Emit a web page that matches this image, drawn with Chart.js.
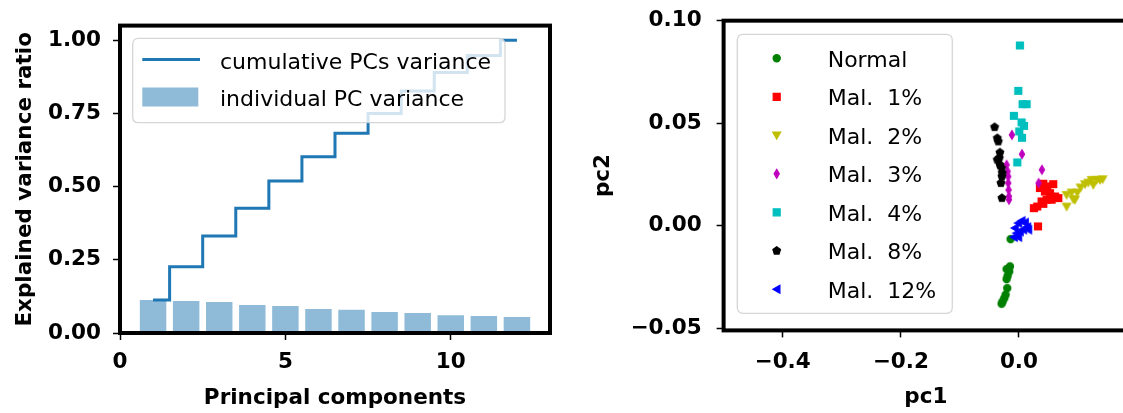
<!DOCTYPE html>
<html><head><meta charset="utf-8">
<script src="https://cdn.jsdelivr.net/npm/chart.js@4.4.0/dist/chart.umd.min.js"></script>
<style>
html,body{margin:0;padding:0;background:#fff;}
body{width:1123px;height:413px;overflow:hidden;position:relative;}
#w1{position:absolute;left:0;top:0;width:560px;height:413px;}
#w2{position:absolute;left:560px;top:0;width:600px;height:413px;}
</style></head><body>
<div id="w1"><canvas id="c1" width="560" height="413"></canvas></div>
<div id="w2"><canvas id="c2" width="600" height="413"></canvas></div>
<script>
// ---------- left chart data ----------
const pcNumbers = [1,2,3,4,5,6,7,8,9,10,11,12];
const individualVariance = [0.113,0.109,0.106,0.096,0.092,0.082,0.079,0.072,0.068,0.061,0.058,0.055];
const cumulativeVariance = [0.113,0.226,0.331,0.426,0.519,0.602,0.682,0.750,0.827,0.890,0.948,1.000];
const varXTicks = [0,5,10];
const varYTicks = [0,0.25,0.5,0.75,1.0];

// ---------- right chart data ----------
const normalPc1 = [-0.0141,-0.0152,-0.0209,-0.0164,-0.0192,-0.0209,-0.0198,-0.0226,-0.0248,-0.0277,-0.0293];
const normalPc2 = [-0.0065,-0.0198,-0.0211,-0.0223,-0.0244,-0.0260,-0.0304,-0.0336,-0.0353,-0.0369,-0.0380];
const mal1Pc1 = [0.0412,0.0480,0.0356,0.0581,0.0440,0.0525,0.0610,0.0666,0.0553,0.0468,0.0384,0.0412,0.0310,0.0254,0.0322];
const mal1Pc2 = [0.0205,0.0192,0.0184,0.0203,0.0167,0.0159,0.0143,0.0135,0.0127,0.0127,0.0119,0.0107,0.0094,0.0086,-0.0003];
const mal2Pc1 = [0.0807,0.0892,0.0948,0.0988,0.1044,0.1118,0.1174,0.1230,0.1259,0.1315,0.1371,0.1417,0.0807,0.0920];
const mal2Pc2 = [0.0151,0.0162,0.0127,0.0162,0.0187,0.0203,0.0211,0.0224,0.0200,0.0224,0.0224,0.0227,0.0094,0.0130];
const mal3Pc1 = [-0.0119,0.0051,-0.0209,0.0389,0.0333,-0.0181,-0.0181,-0.0175,-0.0169,-0.0169,-0.0192];
const mal3Pc2 = [0.0443,0.0349,0.0297,0.0273,0.0208,0.0240,0.0208,0.0175,0.0143,0.0127,0.0265];
const mal4Pc1 = [0.0017,-0.0011,0.0062,0.0130,-0.0085,0.0045,0.0085,0.0006,0.0051,-0.0028];
const mal4Pc2 = [0.0879,0.0658,0.0593,0.0593,0.0536,0.0504,0.0487,0.0460,0.0429,0.0309];
const mal8Pc1 = [-0.0412,-0.0367,-0.0350,-0.0322,-0.0333,-0.0367,-0.0322,-0.0293,-0.0282,-0.0288,-0.0305,-0.0288];
const mal8Pc2 = [0.0481,0.0427,0.0411,0.0357,0.0330,0.0322,0.0297,0.0281,0.0257,0.0240,0.0208,0.0135];
const mal12Pc1 = [-0.0068,-0.0011,0.0045,0.0102,0.0141,-0.0040,0.0017,0.0073,-0.0085,-0.0011,0.0158];
const mal12Pc2 = [-0.0011,0.0013,0.0024,0.0016,-0.0006,-0.0036,-0.0028,-0.0019,-0.0055,-0.0055,-0.0019];
const groupLabels = ['Normal','Mal.  1%','Mal.  2%','Mal.  3%','Mal.  4%','Mal.  8%','Mal.  12%'];
const pcaXTicks = [-0.4,-0.2,0.0];
const pcaYTicks = [-0.05,0.0,0.05,0.10];

// ---------- helpers ----------
Chart.defaults.font.family = '"DejaVu Sans", sans-serif';
const BOLD = {family:'"DejaVu Sans", sans-serif', size:21.5, weight:'bold', lineHeight:1.2};
const TBOLD = {family:'"DejaVu Sans", sans-serif', size:21.5, weight:'bold', lineHeight:0.6};
const fmtMinus = s => s.replace('-', '\u2212');

function shapePath(ctx, shape, cx, cy) {
  ctx.beginPath();
  switch (shape) {
    case 'circle': ctx.arc(cx, cy, 3.6, 0, 2*Math.PI); break;
    case 'square': ctx.rect(cx-3.5, cy-3.5, 7, 7); break;
    case 'tridown': ctx.moveTo(cx-4, cy-3.2); ctx.lineTo(cx+4, cy-3.2); ctx.lineTo(cx, cy+3.8); break;
    case 'trileft': ctx.moveTo(cx-3.8, cy); ctx.lineTo(cx+3.2, cy-4); ctx.lineTo(cx+3.2, cy+4); break;
    case 'thindiamond': ctx.moveTo(cx, cy-4.4); ctx.lineTo(cx+2.6, cy); ctx.lineTo(cx, cy+4.4); ctx.lineTo(cx-2.6, cy); break;
    case 'pentagon':
      for (let k = 0; k < 5; k++) {
        const a = -Math.PI/2 + k*2*Math.PI/5;
        const px = cx + 4*Math.cos(a), py = cy + 4*Math.sin(a);
        if (k === 0) ctx.moveTo(px, py); else ctx.lineTo(px, py);
      }
      break;
  }
  ctx.closePath();
}
function drawMarker(ctx, shape, cx, cy, color) {
  ctx.save();
  ctx.fillStyle = color; ctx.strokeStyle = color; ctx.lineWidth = 1.2; ctx.lineJoin = 'miter';
  shapePath(ctx, shape, cx, cy);
  ctx.fill(); ctx.stroke();
  ctx.restore();
}
function markerImage(shape, color) {
  const c = document.createElement('canvas');
  c.width = 14; c.height = 14;
  drawMarker(c.getContext('2d'), shape, 7, 7, color);
  return c;
}
function roundRectPath(ctx, x, y, w, h, r) {
  ctx.beginPath();
  ctx.moveTo(x+r, y); ctx.lineTo(x+w-r, y); ctx.quadraticCurveTo(x+w, y, x+w, y+r);
  ctx.lineTo(x+w, y+h-r); ctx.quadraticCurveTo(x+w, y+h, x+w-r, y+h);
  ctx.lineTo(x+r, y+h); ctx.quadraticCurveTo(x, y+h, x, y+h-r);
  ctx.lineTo(x, y+r); ctx.quadraticCurveTo(x, y, x+r, y);
  ctx.closePath();
}
const framePlugin = {
  id: 'frame',
  afterDatasetsDraw(chart) {
    const {ctx, chartArea: a} = chart;
    ctx.save();
    ctx.strokeStyle = '#000'; ctx.lineWidth = 4; ctx.lineJoin = 'miter';
    ctx.strokeRect(a.left, a.top, a.right - a.left, a.bottom - a.top);
    ctx.restore();
  }
};
function legendBox(ctx, x, y, w, h) {
  roundRectPath(ctx, x, y, w, h, 6);
  ctx.fillStyle = 'rgba(255,255,255,0.8)'; ctx.fill();
  ctx.strokeStyle = 'rgba(204,204,204,0.8)'; ctx.lineWidth = 1.3; ctx.stroke();
}
const tickGrid = {display:true, offset:false, drawOnChartArea:false, drawTicks:true, tickLength:7, tickWidth:1.5, tickColor:'#000'};
const setTicks = arr => scale => { scale.ticks = arr.map(v => ({value: v})); };
const fixSize = (prop, val) => s => {
  s[prop] = val;
  s.paddingTop = 0; s.paddingBottom = 0; s.paddingLeft = 0; s.paddingRight = 0;
};

// ---------- left chart ----------
const leftLegend = {
  id: 'leftLegend',
  afterDraw(chart) {
    const ctx = chart.ctx;
    ctx.save();
    legendBox(ctx, 132.7, 38.3, 372.3, 84.4);
    const ds = chart.data.datasets;
    ctx.strokeStyle = ds[0].borderColor; ctx.lineWidth = 3;
    ctx.beginPath(); ctx.moveTo(142.3, 59.5); ctx.lineTo(200, 59.5); ctx.stroke();
    ctx.fillStyle = ds[1].backgroundColor; ctx.fillRect(142.3, 87.5, 56, 19);
    ctx.fillStyle = '#000'; ctx.font = '22px "DejaVu Sans"'; ctx.textBaseline = 'alphabetic';
    ctx.fillText(ds[0].label, 220, 68.5);
    ctx.fillText(ds[1].label, 220, 106);
    ctx.restore();
  }
};
new Chart(document.getElementById('c1'), {
  type: 'bar',
  data: {
    datasets: [
      {type:'line', label:'cumulative PCs variance',
       data: pcNumbers.map((x,i) => ({x, y: cumulativeVariance[i]})),
       stepped:'middle', borderColor:'#1f77b4', borderWidth:3, pointRadius:0, fill:false, order:0},
      {type:'bar', label:'individual PC variance',
       data: pcNumbers.map((x,i) => ({x, y: individualVariance[i]})),
       backgroundColor:'rgba(31,119,180,0.5)', borderWidth:0, barPercentage:0.8, categoryPercentage:1.0, order:1}
    ]
  },
  options: {
    responsive:false, animation:false, events:[],
    layout:{padding:{left:0, top:25.6, right:10, bottom:0}},
    plugins:{legend:{display:false}, tooltip:{enabled:false}},
    scales:{
      x:{type:'linear', min:0, max:13, offset:false,
         afterBuildTicks: setTicks(varXTicks),
         afterFit: fixSize('height', 80),
         grid: tickGrid, border:{display:false},
         ticks:{font:BOLD, color:'#000', padding:9.5, maxRotation:0, autoSkip:false, callback: v => String(v)},
         title:{display:true, text:'Principal components', font:TBOLD, color:'#000', padding:{top:0, bottom:8.5}}},
      y:{type:'linear', min:0, max:1.05,
         afterBuildTicks: setTicks(varYTicks),
         afterFit: fixSize('width', 120),
         grid: tickGrid, border:{display:false},
         ticks:{font:BOLD, color:'#000', padding:12, autoSkip:false, callback: v => v.toFixed(2)},
         title:{display:true, text:'Explained variance ratio', font:TBOLD, color:'#000', padding:{top:18.6, bottom:0}}}
    }
  },
  plugins:[framePlugin, leftLegend]
});

// ---------- right chart ----------
const groupShapes = ['circle','square','tridown','thindiamond','square','pentagon','trileft'];
const groupColors = ['#008000','#ff0000','#bfbf00','#bf00bf','#00bfbf','#000000','#0000ff'];
const groupPc1 = [normalPc1, mal1Pc1, mal2Pc1, mal3Pc1, mal4Pc1, mal8Pc1, mal12Pc1];
const groupPc2 = [normalPc2, mal1Pc2, mal2Pc2, mal3Pc2, mal4Pc2, mal8Pc2, mal12Pc2];

const rightLegend = {
  id: 'rightLegend',
  afterDraw(chart) {
    const ctx = chart.ctx;
    ctx.save();
    legendBox(ctx, 177.3, 34.3, 215, 279);
    ctx.font = '22px "DejaVu Sans"'; ctx.textBaseline = 'alphabetic';
    chart.data.datasets.forEach((ds, i) => {
      const cy = 58.3 + i*38.5;
      drawMarker(ctx, groupShapes[i], 216.7, cy, groupColors[i]);
      ctx.fillStyle = '#000';
      ctx.fillText(ds.label, 267.7, cy + 8.2);
    });
    ctx.restore();
  }
};
new Chart(document.getElementById('c2'), {
  type: 'scatter',
  data: {
    datasets: groupLabels.map((label, i) => ({
      label,
      data: groupPc1[i].map((x, j) => ({x, y: groupPc2[i][j]})),
      pointStyle: markerImage(groupShapes[i], groupColors[i]),
      pointRadius: 4, pointHoverRadius: 4,
      backgroundColor: groupColors[i], borderColor: groupColors[i],
      order: groupLabels.length - 1 - i
    }))
  },
  options: {
    responsive:false, animation:false, events:[],
    layout:{padding:{left:0, top:20.67, right:31.8, bottom:0}},
    plugins:{legend:{display:false}, tooltip:{enabled:false}},
    scales:{
      x:{type:'linear', min:-0.5, max:0.185,
         afterBuildTicks: setTicks(pcaXTicks),
         afterFit: fixSize('height', 82.6),
         grid: tickGrid, border:{display:false},
         ticks:{font:BOLD, color:'#000', padding:11.7, maxRotation:0, autoSkip:false, callback: v => fmtMinus(v.toFixed(1))},
         title:{display:true, text:'pc1', font:TBOLD, color:'#000', padding:{top:0, bottom:9.5}}},
      y:{type:'linear', min:-0.051, max:0.1,
         afterBuildTicks: setTicks(pcaYTicks),
         afterFit: fixSize('width', 163.6),
         grid: tickGrid, border:{display:false},
         ticks:{font:BOLD, color:'#000', padding:15, autoSkip:false, callback: v => fmtMinus(v.toFixed(2))},
         title:{display:true, text:'pc2', font:TBOLD, color:'#000', padding:{top:37, bottom:0}}}
    }
  },
  plugins:[framePlugin, rightLegend]
});
</script>
</body></html>
